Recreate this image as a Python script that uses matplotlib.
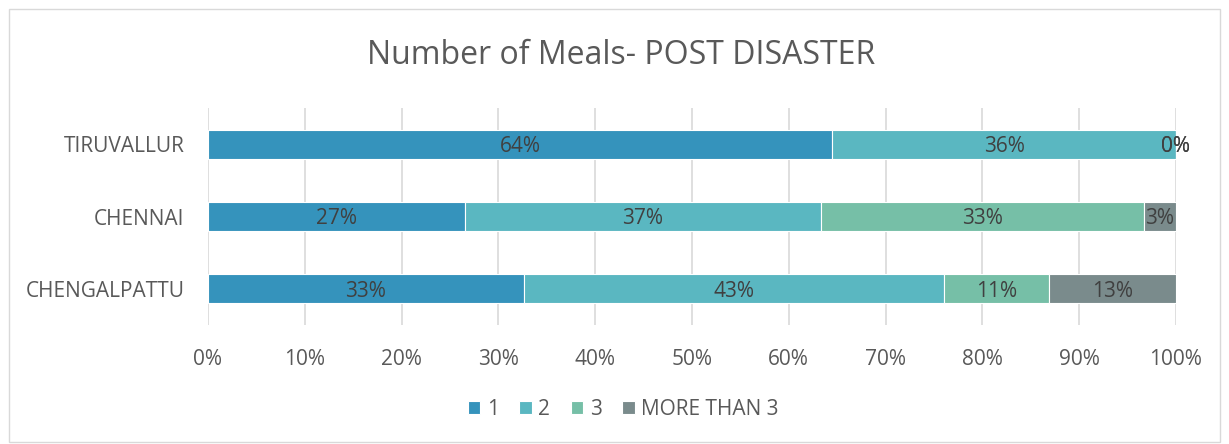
import matplotlib.pyplot as plt
import numpy as np
from matplotlib.patches import Rectangle

# data (percent)
districts = ['CHENGALPATTU', 'CHENNAI', 'TIRUVALLUR']
series_names = ['1', '2', '3', 'MORE THAN 3']
one = [32.6, 26.6, 64.5]
two = [43.4, 36.7, 35.5]
three = [10.9, 33.4, 0.0]
more3 = [13.1, 3.3, 0.0]
colors = ['#3593bc', '#5ab7c1', '#76bfa7', '#7a8b8c']

plt.rcParams['font.family'] = ['Open Sans', 'DejaVu Sans']

fig = plt.figure(figsize=(12.29, 4.44), dpi=100)
ax = fig.add_axes([0.1692, 0.268, 0.7876, 0.4887])

y = np.arange(len(districts))
left = np.zeros(len(districts))
for vals, name, c in zip([one, two, three, more3], series_names, colors):
    vals = np.array(vals)
    ax.barh(y, vals, height=0.4, left=left, color=c, label=name,
            edgecolor='white', linewidth=0.8)
    for yi, l, v in zip(y, left, vals):
        ax.text(l + v / 2, yi - 0.03, '%d%%' % round(v), ha='center', va='center',
                fontsize=15, color='#404040')
    left = left + vals

ax.set_xlim(0, 100)
ax.set_ylim(-0.5, 2.5)
ax.set_xticks(np.arange(0, 101, 10))
ax.set_xticklabels(['%d%%' % t for t in range(0, 101, 10)])
ax.set_yticks(y)
ax.set_yticklabels(districts)
ax.tick_params(axis='both', length=0, labelsize=15, colors='#595959')
ax.tick_params(axis='x', pad=17)
ax.tick_params(axis='y', pad=17)
ax.grid(axis='x', color='#d9d9d9', linewidth=1.2)
ax.set_axisbelow(True)
for s in ax.spines.values():
    s.set_visible(False)

fig.text(0.505, 0.876, 'Number of Meals- POST DISASTER', ha='center', va='center',
         fontsize=23, color='#595959')

ax.legend(loc='center', bbox_to_anchor=(0.429, -0.39), ncol=4, frameon=False,
          fontsize=15, labelcolor='#595959', handlelength=0.6, handleheight=0.6,
          handletextpad=0.3, columnspacing=1.0)

fig.patches.append(Rectangle((0.007, 0.005), 0.986, 0.975, transform=fig.transFigure,
                             fill=False, edgecolor='#d9d9d9', linewidth=1))

fig.savefig('out.png', dpi=100)
